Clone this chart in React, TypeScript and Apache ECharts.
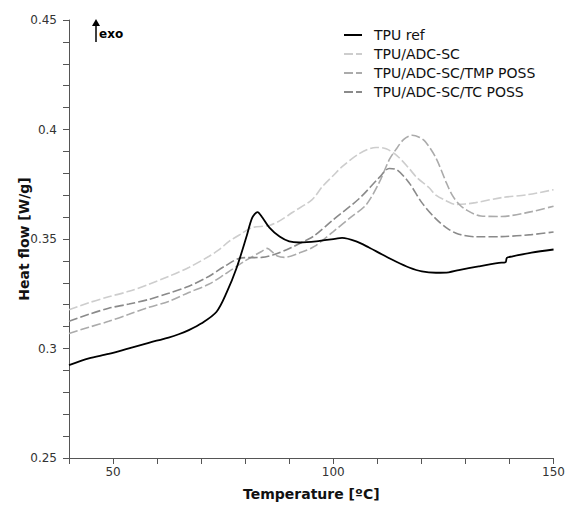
import React, { useEffect, useRef } from "react";
import * as echarts from "echarts";

const seriesNames = ["TPU ref", "TPU/ADC-SC", "TPU/ADC-SC/TMP POSS", "TPU/ADC-SC/TC POSS"];

const tpuRef: [number, number][] = [
  [40, 0.2924], [44.5, 0.2955], [49, 0.2975], [53.6, 0.3001], [58.1, 0.3026], [62.6, 0.3050],
  [64.9, 0.3065], [67.2, 0.3084], [70.1, 0.3115], [73.5, 0.3168], [75.8, 0.3256], [78, 0.3365],
  [80.3, 0.3511], [81.6, 0.3598], [82.8, 0.3623], [83.9, 0.3598], [85.5, 0.3552], [87.8, 0.3511],
  [90, 0.3489], [92.3, 0.3484], [96.1, 0.3489], [100.7, 0.3502], [102, 0.3505], [105.2, 0.3489],
  [108.1, 0.3461], [111.1, 0.3429], [114.2, 0.3397], [117.2, 0.3370], [120.1, 0.3352],
  [123.3, 0.3346], [126.2, 0.3348], [128.5, 0.3358], [133, 0.3375], [137.6, 0.3391],
  [139.1, 0.3394], [139.4, 0.3414], [140.5, 0.3420], [145, 0.3438], [150, 0.3452],
];

const adcSc: [number, number][] = [
  [40, 0.3177], [44.5, 0.3209], [49, 0.3236], [53.6, 0.3261], [58.1, 0.3293], [62.6, 0.3329],
  [67.2, 0.3370], [71.7, 0.3420], [74, 0.3450], [76.4, 0.3490], [79.2, 0.3525], [81.5, 0.3552],
  [85.5, 0.3562], [88, 0.3585], [90.7, 0.3621], [95.2, 0.3680], [97.5, 0.3739], [100, 0.3790],
  [102, 0.3830], [105.9, 0.3890], [109.7, 0.3918], [112, 0.3912], [114.5, 0.3880],
  [117.2, 0.3822], [119, 0.3780], [121.7, 0.3735], [123.3, 0.3700], [125.6, 0.3675],
  [127.8, 0.3658], [130, 0.3660], [132.3, 0.3666], [138.2, 0.3689], [144.3, 0.3703], [150, 0.3725],
];

const tmpPoss: [number, number][] = [
  [40, 0.3069], [44.5, 0.3097], [49, 0.3124], [53.6, 0.3156], [58.1, 0.3188], [62.6, 0.3215],
  [67.2, 0.3256], [71.7, 0.3293], [75.3, 0.3338], [79.8, 0.3398], [83.7, 0.3443], [85, 0.3457],
  [86.2, 0.3440], [87.3, 0.3422], [88.9, 0.3416], [92.7, 0.3439], [95.7, 0.3466], [100, 0.3534],
  [104, 0.3600], [107.4, 0.3655], [110.4, 0.3757], [112.7, 0.3862], [114.2, 0.3908],
  [116, 0.3955], [117.9, 0.3974], [119.5, 0.3965], [121, 0.3942], [123.3, 0.3870],
  [125.6, 0.3760], [127, 0.3700], [128.5, 0.3660], [130.1, 0.3634], [133.5, 0.3605],
  [138.2, 0.3603], [145, 0.3625], [150, 0.3650],
];

const tcPoss: [number, number][] = [
  [40, 0.3124], [44.5, 0.3156], [49, 0.3184], [53.6, 0.3203], [58.1, 0.3224], [62.6, 0.3252],
  [67.2, 0.3284], [71.7, 0.3329], [75.3, 0.3375], [79.2, 0.3414], [83.7, 0.3416], [86.6, 0.3429],
  [90.5, 0.3461], [93.9, 0.3495], [95.7, 0.3515], [99.8, 0.3585], [105.9, 0.3685],
  [110.4, 0.3780], [112.7, 0.3822], [114.5, 0.3815], [117.2, 0.3757], [120.1, 0.3666],
  [123.3, 0.3592], [126.2, 0.3544], [128.5, 0.3522], [132.3, 0.3510], [138.2, 0.3511],
  [145, 0.3520], [150, 0.3532],
];

const xLabelValues = [50, 100, 150];
const yLabelValues = [0.25, 0.3, 0.35, 0.4, 0.45];

const FONT = "DejaVu Sans";

export default function App() {
  const ref = useRef<HTMLDivElement>(null);
  useEffect(() => {
    if (!ref.current) return;
    const chart = echarts.init(ref.current, null, { renderer: "svg" });
    const dashed = (color: string) => ({ color, width: 1.6, type: [9, 3] as any });
    chart.setOption({
      animation: false,
      backgroundColor: "#ffffff",
      textStyle: { fontFamily: FONT },
      grid: { left: 69, right: 13, top: 20, bottom: 47, containLabel: false },
      legend: {
        orient: "vertical",
        left: 338,
        top: 23,
        itemWidth: 18,
        itemHeight: 14,
        itemGap: 5,
        itemStyle: { opacity: 0, borderWidth: 0 },
        textStyle: { fontFamily: FONT, fontSize: 14, color: "#111", padding: [0, 0, 0, 7] },
        data: seriesNames,
      },
      xAxis: {
        type: "value",
        min: 40,
        max: 150,
        interval: 10,
        name: "Temperature [ºC]",
        nameLocation: "middle",
        nameGap: 29,
        nameMoveOverlap: false,
        nameTextStyle: { fontFamily: FONT, fontSize: 14, fontWeight: "bold", color: "#111" },
        axisLine: { show: true, onZero: false, lineStyle: { color: "#555", width: 1 } },
        axisTick: { show: true, length: 6, lineStyle: { color: "#555" } },
        axisLabel: {
          fontFamily: FONT,
          fontSize: 12,
          color: "#333",
          margin: 8,
          formatter: (v: number) => (xLabelValues.includes(Math.round(v)) ? String(Math.round(v)) : ""),
        },
        splitLine: { show: false },
      },
      yAxis: {
        type: "value",
        min: 0.25,
        max: 0.45,
        interval: 0.01,
        name: "Heat flow [W/g]",
        nameLocation: "middle",
        nameGap: 38,
        nameMoveOverlap: false,
        nameTextStyle: { fontFamily: FONT, fontSize: 14, fontWeight: "bold", color: "#111" },
        axisLine: { show: true, onZero: false, lineStyle: { color: "#555", width: 1 } },
        axisTick: { show: true, length: 6, lineStyle: { color: "#555" } },
        axisLabel: {
          fontFamily: FONT,
          fontSize: 12,
          color: "#333",
          margin: 12,
          formatter: (v: number) => {
            const r = Math.round(v * 100) / 100;
            return yLabelValues.some((y) => Math.abs(y - r) < 1e-6) ? String(r) : "";
          },
        },
        splitLine: { show: false },
      },
      graphic: [
        { type: "line", shape: { x1: 96, y1: 24, x2: 96, y2: 42 }, style: { stroke: "#000", lineWidth: 1.5 } },
        { type: "polygon", shape: { points: [[96, 19], [92, 26], [100, 26]] }, style: { fill: "#000" } },
        {
          type: "text",
          x: 99,
          y: 34,
          style: { text: "exo", font: `bold 12px ${FONT}`, fill: "#000", verticalAlign: "middle" },
        },
      ],
      series: [
        { name: seriesNames[0], type: "line", data: tpuRef, symbol: "none", smooth: 0.3, lineStyle: { color: "#000", width: 1.8 }, itemStyle: { color: "#000" }, z: 5 },
        { name: seriesNames[1], type: "line", data: adcSc, symbol: "none", smooth: 0.3, lineStyle: dashed("#cdcdcd"), itemStyle: { color: "#cdcdcd" } },
        { name: seriesNames[2], type: "line", data: tmpPoss, symbol: "none", smooth: 0.3, lineStyle: dashed("#ababab"), itemStyle: { color: "#ababab" } },
        { name: seriesNames[3], type: "line", data: tcPoss, symbol: "none", smooth: 0.3, lineStyle: dashed("#8a8a8a"), itemStyle: { color: "#8a8a8a" } },
      ],
    });
    return () => chart.dispose();
  }, []);
  return <div ref={ref} style={{ width: 568, height: 506, position: "absolute", left: 0, top: 0 }} />;
}
